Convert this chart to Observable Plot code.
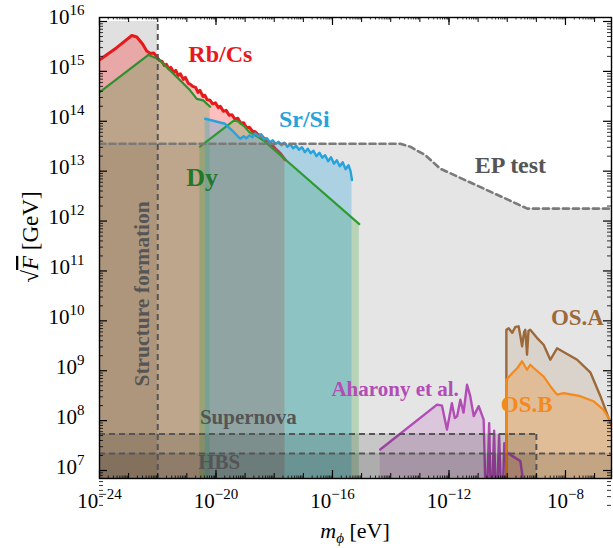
<!DOCTYPE html>
<html><head><meta charset="utf-8">
<script src="https://cdn.jsdelivr.net/npm/d3@7"></script>
<script src="https://cdn.jsdelivr.net/npm/@observablehq/plot@0.6"></script>
<style>body{margin:0;background:#fff} svg{display:block}</style>
</head><body><div id="chart"></div>
<script>
// All curves: [log10(m_phi / eV), log10(sqrt(F) / GeV)]
const epTest = [[-24,13.55],[-13.67,13.55],[-13.33,13.49],[-12.81,13.32],[-12.30,13.05],[-9.31,12.25],[-6.3,12.25]];
const rbcs = [[-23.98,15.24],[-23.4,15.48],[-22.89,15.72],[-22.72,15.69],[-22.52,15.55],[-22.38,15.41],[-22.25,15.36],[-22.14,15.37],[-22.03,15.29],[-21.95,15.22],[-21.85,15.20],[-21.78,15.12],[-21.70,15.14],[-21.62,15.05],[-21.55,15.08],[-21.45,14.98],[-21.38,15.02],[-21.30,14.92],[-21.22,14.95],[-21.12,14.84],[-21.05,14.88],[-20.95,14.76],[-20.88,14.74],[-20.80,14.70],[-20.70,14.68],[-20.62,14.58],[-20.55,14.62],[-20.45,14.50],[-20.38,14.52],[-20.30,14.43],[-20.20,14.42],[-20.12,14.35],[-20.02,14.37],[-19.92,14.27],[-19.85,14.30],[-19.75,14.20],[-19.65,14.22],[-19.55,14.12],[-19.45,14.13],[-19.35,14.04],[-19.25,14.06],[-19.15,13.96],[-19.05,13.97],[-18.95,13.87],[-18.85,13.88],[-18.75,13.80],[-18.65,13.79],[-18.55,13.73],[-18.45,13.72],[-18.35,13.66],[-18.25,13.62],[-18.1,13.55],[-17.95,13.44],[-17.8,13.36],[-17.63,13.23]];
const dyLow = [[-23.98,14.59],[-22.32,15.33],[-21.98,15.25],[-21.35,14.89],[-20.89,14.62],[-20.66,14.45],[-20.44,14.42],[-20.20,14.29]];
const dyHigh = [[-20.55,13.49],[-19.40,14.01],[-19.25,14.00],[-19.03,13.90],[-18.85,13.78],[-18.71,13.74],[-18.38,13.62],[-15.08,11.94]];
const srsi = [[-20.37,14.05],[-19.69,13.95],[-19.45,13.82],[-19.17,13.65],[-19.05,13.70],[-18.95,13.66],[-18.85,13.72],[-18.75,13.68],[-18.65,13.76],[-18.55,13.70],[-18.45,13.74],[-18.35,13.64],[-18.25,13.66],[-18.15,13.58],[-18.05,13.62],[-17.95,13.55],[-17.85,13.59],[-17.75,13.52],[-17.65,13.57],[-17.55,13.49],[-17.45,13.54],[-17.35,13.46],[-17.25,13.51],[-17.15,13.43],[-17.05,13.48],[-16.95,13.38],[-16.85,13.45],[-16.75,13.36],[-16.65,13.41],[-16.55,13.30],[-16.45,13.37],[-16.35,13.27],[-16.25,13.32],[-16.15,13.20],[-16.05,13.28],[-15.95,13.15],[-15.85,13.22],[-15.75,13.10],[-15.65,13.18],[-15.55,13.04],[-15.45,13.12],[-15.38,13.00],[-15.33,12.82]];
const aharony = [[-14.36,7.42],[-12.41,8.32],[-12.24,8.30],[-12.07,7.82],[-11.90,8.35],[-11.80,8.05],[-11.72,8.09],[-11.61,8.42],[-11.50,8.16],[-11.38,8.72],[-11.27,8.49],[-11.15,8.09],[-10.98,8.29],[-10.81,8.02],[-10.72,6.0],[-10.62,7.95],[-10.55,6.0],[-10.45,7.80],[-10.38,6.0],[-10.28,7.72],[-10.18,6.0],[-10.10,7.55],[-10.01,7.36],[-9.55,7.19],[-9.26,6.0]];
const osA = [[-10.03,6.0],[-10.03,9.82],[-9.95,9.85],[-9.83,9.76],[-9.72,9.88],[-9.61,9.89],[-9.55,9.70],[-9.49,9.49],[-9.42,9.78],[-9.38,9.82],[-9.32,9.32],[-9.27,9.80],[-9.21,9.82],[-8.98,9.66],[-8.75,9.52],[-8.52,9.22],[-8.29,9.45],[-7.60,9.22],[-7.14,8.96],[-6.80,8.49],[-6.46,7.96],[-6.40,7.90]];
const osB = [[-10.03,6.0],[-10.03,8.82],[-9.83,8.95],[-9.66,9.05],[-9.49,9.19],[-9.32,9.02],[-9.21,9.12],[-9.10,9.06],[-8.76,8.89],[-8.52,8.69],[-8.29,8.52],[-8.06,8.55],[-7.49,8.49],[-7.04,8.39],[-6.70,8.22],[-6.40,7.95]];
// Bound boxes (log10 values)
const boxes = [
  {name: "Structure formation", mMin: -24, mMax: -22, Fmax: 16},
  {name: "Supernova", mMin: -24, mMax: -9, Fmax: 7.73},
  {name: "HBS", mMin: -24, mMax: -6.3, Fmax: 7.34}
];
const labels = [
  {text: "Rb/Cs", m: -19.85, F: 15.34, color: "#e8191b", size: 24},
  {text: "Sr/Si", m: -16.97, F: 14.04, color: "#27a3dc", size: 24},
  {text: "Dy", m: -20.48, F: 12.86, color: "#22782a", size: 26},
  {text: "EP test", m: -9.89, F: 13.12, color: "#555555", size: 24},
  {text: "OS.A", m: -7.59, F: 10.06, color: "#9c6a3a", size: 23},
  {text: "OS.B", m: -9.33, F: 8.32, color: "#f28a1d", size: 23},
  {text: "Aharony et al.", m: -13.85, F: 8.62, color: "#b24db6", size: 21},
  {text: "Supernova", m: -18.89, F: 8.06, color: "#555555", size: 21},
  {text: "HBS", m: -19.89, F: 7.16, color: "#555555", size: 21}
];
const vLabels = [{text: "Structure formation", m: -22.54, F: 10.54, color: "#555555", size: 21.5}];
const xMajorExp = [-24, -20, -16, -12, -8];
const yMajorExp = [7, 8, 9, 10, 11, 12, 13, 14, 15, 16];

const P = a => a.map(([m, f]) => ({m: 10 ** m, F: 10 ** f}));
const FLOOR = 1e6;
const box = boxes.map(b => ({name: b.name, mMin: 10 ** b.mMin, mMax: 10 ** b.mMax, Fmax: 10 ** b.Fmax}));
const lab = labels.map(l => ({...l, m: 10 ** l.m, F: 10 ** l.F}));
const vlab = vLabels.map(l => ({...l, m: 10 ** l.m, F: 10 ** l.F}));

const decX = d3.range(-24, -6).map(e => 10 ** e);
const minX = d3.range(-24, -7).flatMap(e => d3.range(2, 10).map(k => k * 10 ** e));
const decY = d3.range(7, 17).map(e => 10 ** e);
const minY = d3.range(6, 16).flatMap(e => d3.range(2, 10).map(k => k * 10 ** e));

const W = 613, H = 548, mL = 99, mR = 2, mT = 17, mB = 70;
const iW = W - mL - mR, iH = H - mT - mB;

const area = (d, color, op) => Plot.areaY(P(d), {x: "m", y1: FLOOR, y2: "F", fill: color, fillOpacity: op, clip: true});
const line = (d, color, w) => Plot.line(P(d), {x: "m", y: "F", stroke: color, strokeWidth: w, clip: true});

const plot = Plot.plot({
  width: W, height: H, marginLeft: mL, marginRight: mR, marginTop: mT, marginBottom: mB,
  style: {fontFamily: "'Liberation Serif', serif", background: "white"},
  x: {type: "log", domain: [1e-24, 10 ** -6.42]},
  y: {type: "log", domain: [10 ** 6.84, 10 ** 16.08]},
  marks: [
    area(epTest, "#e5e5e5", 1),
    Plot.rect(box, {x1: "mMin", x2: "mMax", y1: FLOOR, y2: "Fmax", fill: "black", fillOpacity: 0.12, clip: true, filter: d => d.name === "Structure formation"}),
    area(rbcs, "#ff0000", 0.25),
    area(dyLow, "#1e961e", 0.22),
    area(dyHigh, "#1e961e", 0.22),
    line(rbcs, "#e8191b", 3),
    area(srsi, "#27a3dc", 0.3),
    line(dyLow, "#2f8f2f", 2.2),
    line(dyHigh, "#2f9a2f", 2.2),
    line(srsi, "#27a3dc", 2.4),
    area(aharony, "#b24db6", 0.2),
    area(osA, "#9c6a3a", 0.15),
    area(osB, "#f28a1d", 0.3),
    line(aharony, "#b24db6", 2.4),
    line(osA, "#9c6a3a", 2.4),
    line(osB, "#f28a1d", 2.2),
    Plot.rect(box, {x1: "mMin", x2: "mMax", y1: FLOOR, y2: "Fmax", fill: "black", fillOpacity: 0.13, clip: true, filter: d => d.name !== "Structure formation"}),
    Plot.line(P(epTest), {x: "m", y: "F", stroke: "#7a7a7a", strokeWidth: 2.6, strokeDasharray: "6,4", clip: true}),
    Plot.ruleX(box, {x: "mMax", y1: FLOOR, y2: "Fmax", stroke: "#555", strokeWidth: 2, strokeDasharray: "6,4", clip: true, filter: d => d.name !== "HBS"}),
    Plot.ruleY(box, {y: "Fmax", x1: "mMin", x2: "mMax", stroke: "#555", strokeWidth: 2, strokeDasharray: "6,4", clip: true, filter: d => d.name !== "Structure formation"}),
    Plot.text(lab, {x: "m", y: "F", text: "text", fill: "color", fontSize: "size", fontWeight: "bold", fontFamily: "'Liberation Serif', serif"}),
    Plot.text(vlab, {x: "m", y: "F", text: "text", fill: "color", fontSize: "size", fontWeight: "bold", rotate: -90, fontFamily: "'Liberation Serif', serif"}),
    // inward ticks
    Plot.tickX(decX, {x: d => d, insetTop: iH - 5, stroke: "black", strokeWidth: 1}),
    Plot.tickX(decX, {x: d => d, insetBottom: iH - 5, stroke: "black", strokeWidth: 1}),
    Plot.tickX(minX, {x: d => d, insetTop: iH - 2.5, stroke: "black", strokeWidth: 0.8}),
    Plot.tickX(minX, {x: d => d, insetBottom: iH - 2.5, stroke: "black", strokeWidth: 0.8}),
    Plot.tickX(xMajorExp.map(e => 10 ** e), {x: d => d, insetTop: iH - 8, stroke: "black", strokeWidth: 1.2}),
    Plot.tickX(xMajorExp.map(e => 10 ** e), {x: d => d, insetBottom: iH - 8, stroke: "black", strokeWidth: 1.2}),
    Plot.tickY(decY, {y: d => d, insetRight: iW - 8, stroke: "black", strokeWidth: 1.2}),
    Plot.tickY(decY, {y: d => d, insetLeft: iW - 8, stroke: "black", strokeWidth: 1.2}),
    Plot.tickY(minY, {y: d => d, insetRight: iW - 4, stroke: "black", strokeWidth: 0.8}),
    Plot.tickY(minY, {y: d => d, insetLeft: iW - 4, stroke: "black", strokeWidth: 0.8}),
    Plot.frame({stroke: "black", strokeWidth: 1.4}),
    Plot.axisX({ticks: xMajorExp.map(e => 10 ** e), tickSize: 0, tickPadding: 0, fontSize: 21, label: null,
      tickFormat: d => "10^" + Math.round(Math.log10(d))}),
    Plot.axisY({ticks: yMajorExp.map(e => 10 ** e), tickSize: 0, tickPadding: 15, fontSize: 21, label: null,
      tickFormat: d => "10^" + Math.round(Math.log10(d))})
  ]
});

const svg = d3.select(plot);
function sup(sel, baseY) {
  sel.each(function () {
    const t = d3.select(this);
    const s = t.text();
    const exp = s.split("^")[1].replace("-", "\u2212");
    t.text(null).attr("y", baseY).attr("dy", null).style("fill", "black");
    t.append("tspan").text("10");
    t.append("tspan").attr("dy", -9).attr("font-size", 15).text(exp);
  });
}
sup(svg.selectAll('g[aria-label="x-axis tick label"] text'), 29);
sup(svg.selectAll('g[aria-label="y-axis tick label"] text'), 3);

// axis titles
const xt = svg.append("text").attr("x", 355).attr("y", 538).attr("text-anchor", "middle")
  .attr("font-family", "'Liberation Serif', serif").attr("font-size", 22).attr("fill", "black");
xt.append("tspan").attr("font-style", "italic").text("m");
xt.append("tspan").attr("font-style", "italic").attr("font-size", 15).attr("dy", 5).text("\u03d5");
xt.append("tspan").attr("dy", -5).text(" [eV]");

const yt = svg.append("text").attr("transform", "translate(38,237) rotate(-90)").attr("text-anchor", "middle")
  .attr("font-family", "'Liberation Serif', serif").attr("font-size", 23).attr("fill", "black");
yt.append("tspan").text("\u221a");
yt.append("tspan").attr("font-style", "italic").style("text-decoration", "overline").text("F");
yt.append("tspan").text(" [GeV]");

document.getElementById("chart").append(plot);
</script>
</body></html>
